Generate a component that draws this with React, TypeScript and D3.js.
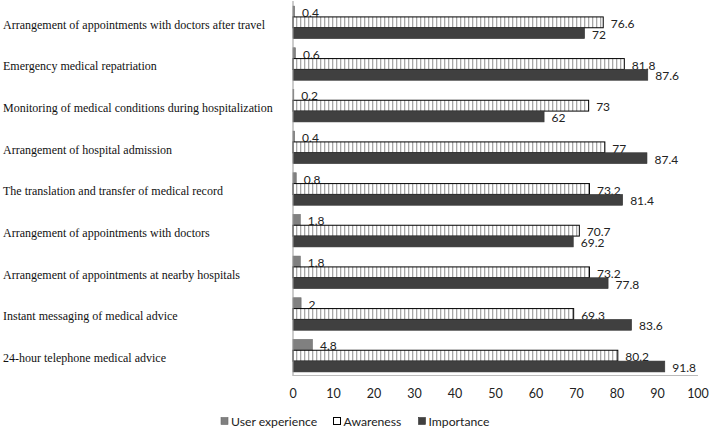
import React from "react";
import * as d3 from "d3";

const categories = [
  "Arrangement of appointments with doctors after travel",
  "Emergency medical repatriation",
  "Monitoring of medical conditions during hospitalization",
  "Arrangement of hospital admission",
  "The translation and transfer of medical record",
  "Arrangement of appointments with doctors",
  "Arrangement of appointments at nearby hospitals",
  "Instant messaging of medical advice",
  "24-hour telephone medical advice",
];
const userExperience = [0.4, 0.6, 0.2, 0.4, 0.8, 1.8, 1.8, 2, 4.8];
const awareness = [76.6, 81.8, 73, 77, 73.2, 70.7, 73.2, 69.3, 80.2];
const importance = [72, 87.6, 62, 87.4, 81.4, 69.2, 77.8, 83.6, 91.8];
const xTicks = [0, 10, 20, 30, 40, 50, 60, 70, 80, 90, 100];
const seriesNames = ["User experience", "Awareness", "Importance"];

const W = 709;
const H = 429;
const LABEL_FONT = "Lato, 'Noto Sans', sans-serif";

export default function App() {
  const x = d3.scaleLinear().domain([0, 100]).range([293, 698]);
  const y = d3
    .scaleBand<string>()
    .domain(categories)
    .range([1.5, 376.5])
    .paddingInner(0.22)
    .paddingOuter(0.11);
  const sub = d3
    .scaleBand<string>()
    .domain(seriesNames)
    .range([0, y.bandwidth()]);
  const series = [userExperience, awareness, importance];
  const fills = ["#808080", "url(#stripes)", "#404040"];
  const strokes = ["#6a6a6a", "#000", "#333"];
  const legendX = [221, 333.5, 418.5];

  return (
    <svg
      width={W}
      height={H}
      style={{ position: "absolute", left: 0, top: 0, background: "#fff" }}
    >
      <defs>
        <pattern id="stripes" width={4} height={4} patternUnits="userSpaceOnUse">
          <rect width={4} height={4} fill="#fff" />
          <rect x={0} width={1.3} height={4} fill="#a8a8a8" />
        </pattern>
      </defs>
      {/* category labels */}
      {categories.map((c) => (
        <text
          key={c}
          transform={`translate(3, ${(y(c) as number) + y.bandwidth() / 2 + 2}) scale(0.89, 1)`}
          dominantBaseline="central"
          fontFamily="'Liberation Serif', 'Times New Roman', serif"
          fontSize={13.5}
          fill="#111"
        >
          {c}
        </text>
      ))}
      {/* bars */}
      {series.map((vals, si) =>
        categories.map((c, i) => {
          const y0 = (y(c) as number) + (sub(seriesNames[si]) as number);
          const w = x(vals[i]) - x(0);
          return (
            <g key={c + si}>
              <rect
                x={x(0)}
                y={y0}
                width={w}
                height={sub.bandwidth()}
                fill={fills[si]}
                stroke={strokes[si]}
                strokeWidth={si === 1 ? 1 : 0.6}
              />
              <text
                x={x(vals[i]) + 7.5}
                y={y0 + sub.bandwidth() / 2 + 1}
                dominantBaseline="central"
                fontFamily={LABEL_FONT}
                fontSize={12}
                fill="#222"
              >
                {vals[i]}
              </text>
            </g>
          );
        })
      )}
      {/* axes */}
      <line x1={293} x2={293} y1={1} y2={376} stroke="#999" strokeWidth={1} />
      <line x1={293} x2={698} y1={375.5} y2={375.5} stroke="#bbb" strokeWidth={1} />
      {xTicks.map((t) => (
        <text
          key={t}
          x={x(t)}
          y={393}
          textAnchor="middle"
          dominantBaseline="central"
          fontFamily={LABEL_FONT}
          fontSize={12.5}
          fill="#222"
        >
          {t}
        </text>
      ))}
      {/* legend */}
      {seriesNames.map((s, i) => (
        <g key={s}>
          <rect
            x={legendX[i]}
            y={417.5}
            width={7}
            height={7}
            fill={i === 1 ? "#fff" : fills[i]}
            stroke={i === 1 ? "#000" : strokes[i]}
            strokeWidth={i === 1 ? 1 : 0.6}
          />
          <text
            x={legendX[i] + 10}
            y={421}
            dominantBaseline="central"
            fontFamily={LABEL_FONT}
            fontSize={12.2}
            fill="#222"
          >
            {s}
          </text>
        </g>
      ))}
    </svg>
  );
}
